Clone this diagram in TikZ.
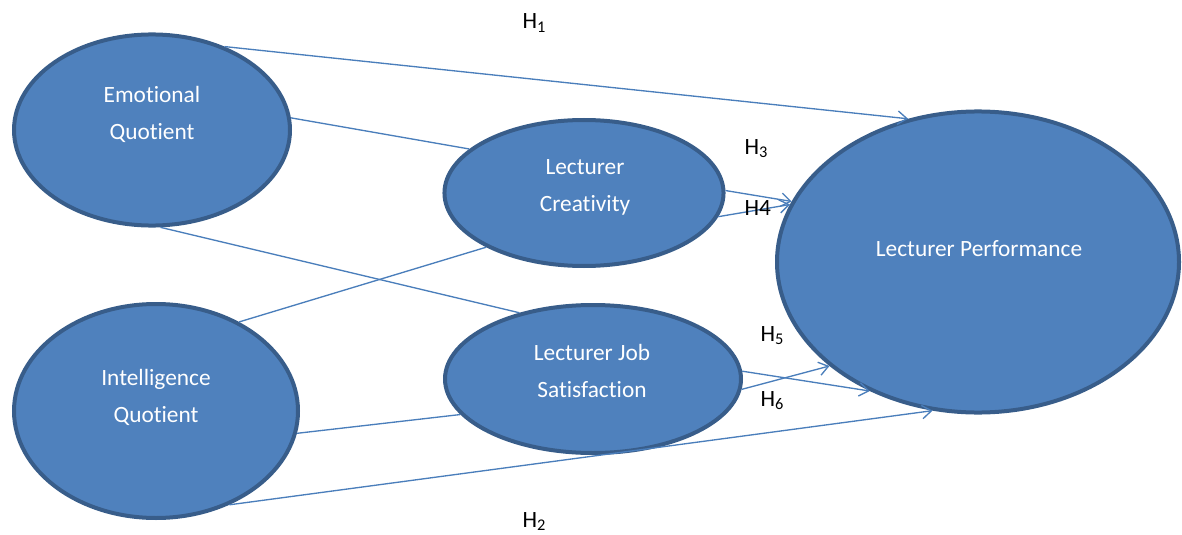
\documentclass[tikz,border=0pt]{standalone}
\usepackage{fontspec}
\setmainfont{Carlito}[Ligatures=NoCommon]
\usetikzlibrary{shapes.geometric,arrows.meta}

\definecolor{varfill}{RGB}{79,129,189}
\definecolor{vardraw}{RGB}{56,93,138}
\definecolor{linkcol}{RGB}{74,126,187}

\tikzset{every picture/.style={line width=0.75pt}}
\tikzset{
  var/.style={ellipse, draw=vardraw, fill=varfill, line width=3pt, inner sep=0pt},
  vartext/.style={align=center, text=white, inner sep=0.75pt, font=\fontsize{17.5}{27.75}\selectfont},
  hyp/.style={anchor=base west, inner sep=0pt, font=\fontsize{17.5}{21}\selectfont},
  link/.style={draw=linkcol, line width=1pt},
  arr/.style={link, -{Straight Barb[length=7pt,width=10pt]}},
}

\begin{document}
\begin{tikzpicture}[x=0.75pt,y=0.75pt,yscale=-1,xscale=1]
  \useasboundingbox (0,0) rectangle (1182,535);

  %Shape: Ellipse
  \node [var, minimum width=207pt, minimum height=143.3pt] (eq) at (152,130) {};
  %Shape: Ellipse
  \node [var, minimum width=213pt, minimum height=160.5pt] (iq) at (156,411) {};
  %Shape: Ellipse
  \node [var, minimum width=209.3pt, minimum height=109.5pt] (lc) at (584,193) {};
  %Shape: Ellipse
  \node [var, minimum width=222pt, minimum height=111pt] (ljs) at (593,379) {};
  %Shape: Ellipse
  \node [var, minimum width=301.5pt, minimum height=225.8pt] (lp) at (978,262) {};

  % Text Node
  \node [vartext] (eqt) at (152,114) {Emotional\\Quotient};
  % Text Node
  \node [vartext] (iqt) at (156,397) {Intelligence\\Quotient};
  % Text Node
  \node [vartext] (lct) at (585,187) {Lecturer\\Creativity};
  % Text Node
  \node [vartext] (ljst) at (592,371) {Lecturer Job\\Satisfaction};
  % Text Node
  \node [vartext] (lpt) at (979,249) {Lecturer Performance};

  %Straight Lines
  \draw [arr] (eq.49) -- (lp.116);
  \draw [link] (eq.5) -- (lc.159);
  \draw [link] (iq.47) -- (lc.209);
  \draw [arr] (lc.1) -- (lp.162);
  \draw [arr] (lc.350) -- (lp.163);
  \draw [link] (eq.275) -- (ljs.138);
  \draw [link] (iq.351) -- (ljs.195);
  \draw [arr] (ljs.3) -- (lp.230);
  \draw [arr] (ljs.356) -- (lp.215);
  \draw [arr] (iq.308) -- (lp.253);

  % Text Node
  \node [hyp] (h1) at (522,29) {H\textsubscript{1}};
  % Text Node
  \node [hyp] (h2) at (522,527) {H\textsubscript{2}};
  % Text Node
  \node [hyp] (h3) at (744,154) {H\textsubscript{3}};
  % Text Node
  \node [hyp] (h4) at (744,215) {H4};
  % Text Node
  \node [hyp] (h5) at (760,341) {H\textsubscript{5}};
  % Text Node
  \node [hyp] (h6) at (760,406) {H\textsubscript{6}};

\end{tikzpicture}
\end{document}
